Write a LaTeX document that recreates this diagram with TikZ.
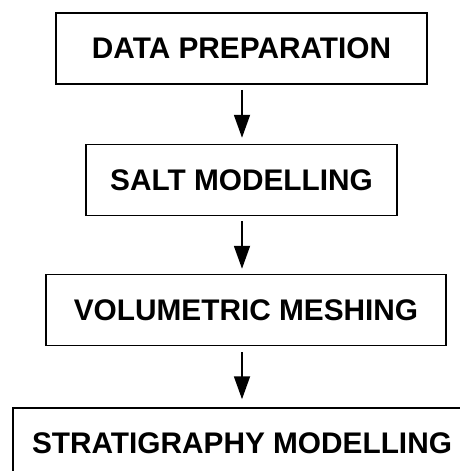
\documentclass[tikz,border=0pt]{standalone}
\usepackage{fontspec}
\setmainfont{Liberation Sans}
\usetikzlibrary{arrows.meta}
\begin{document}
\begin{tikzpicture}[x=1pt,y=1pt,
  stage/.style={draw=black, line width=1.5pt, minimum height=71pt, inner sep=0pt,
    font=\fontsize{29.8}{34}\selectfont\bfseries},
  flow/.style={line width=1.8pt, -{Triangle[length=23pt,width=16pt]}}]
\useasboundingbox (0,0) rectangle (460,-471);
\clip (0,0) rectangle (460,-471);
\node[stage, minimum width=371pt] (prep) at (241.5,-48.5) {DATA PREPARATION};
\node[stage, minimum width=311pt] (salt) at (241.5,-180) {SALT MODELLING};
\node[stage, minimum width=400pt] (mesh) at (246,-310) {VOLUMETRIC MESHING};
\node[stage, minimum width=458pt] (strat) at (242,-443.5) {STRATIGRAPHY MODELLING};
\draw[flow] ([yshift=-5pt]prep.south -| 242,0) -- ([yshift=6pt]salt.north -| 242,0);
\draw[flow] ([yshift=-5pt]salt.south -| 242,0) -- ([yshift=5pt]mesh.north -| 242,0);
\draw[flow] ([yshift=-6pt]mesh.south -| 242,0) -- ([yshift=8pt]strat.north -| 242,0);
\end{tikzpicture}
\end{document}
